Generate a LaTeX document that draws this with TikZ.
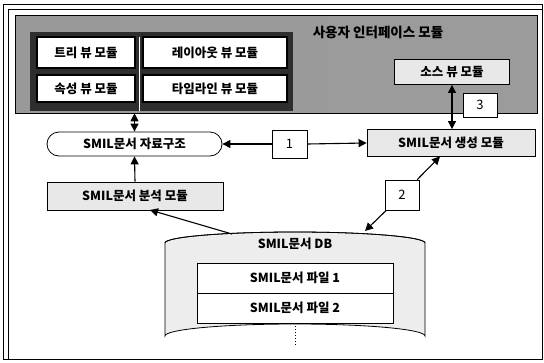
\documentclass[tikz,border=0pt]{standalone}
\usepackage{fontspec}
\setmainfont{Noto Sans CJK KR}
\usetikzlibrary{arrows.meta,shapes.misc,calc}
\begin{document}
\begin{tikzpicture}[x=1pt,y=-1pt,
  txt/.style={font=\fontsize{12.5}{14}\selectfont\bfseries},
  whitebox/.style={draw=black,line width=1.2pt,fill=white,txt,inner sep=0pt},
  graybox/.style={draw=black,line width=0.9pt,fill=gray!18,txt,inner sep=0pt},
  numbox/.style={draw=black,line width=0.8pt,fill=white,font=\fontsize{13}{15}\selectfont,inner sep=0pt},
  arr/.style={line width=1.1pt,-{Triangle[length=8pt,width=8pt]}},
  darr/.style={line width=1.1pt,{Triangle[length=8pt,width=8pt]}-{Triangle[length=8pt,width=8pt]}}]
\useasboundingbox (0,0) rectangle (544,362);
% outer frame
\draw[line width=1pt] (3,4) rectangle (542,359);
\draw[line width=0.6pt] (8,359) -- (8,9) -- (542,9);
% UI panel
\shade[left color=gray!80, middle color=gray!35, right color=gray!78] (15,15) rectangle (537,113);
\node[draw=black,line width=0.6pt,minimum width=522,minimum height=98,inner sep=0pt] (ui) at (276,64) {};
\fill[black!82] (30,32) rectangle (293,111);
\draw[white,line width=0.6pt] (139,37) -- (139,111);
\node[txt,font=\fontsize{13.5}{15}\selectfont\bfseries] (title) at (378,32) {사용자 인터페이스 모듈};
\node[whitebox,minimum width=98,minimum height=31] (tree) at (86,52.5) {트리 뷰 모듈};
\node[whitebox,minimum width=98,minimum height=27] (prop) at (86,88.5) {속성 뷰 모듈};
\node[whitebox,minimum width=144,minimum height=31] (lay) at (215,52.5) {레이아웃 뷰 모듈};
\node[whitebox,minimum width=144,minimum height=27] (time) at (215,88.5) {타임라인 뷰 모듈};
\node[graybox,minimum width=115,minimum height=25] (src) at (452,72) {소스 뷰 모듈};
\node[numbox,minimum width=34,minimum height=24] (b3) at (480,105) {3};
% middle
\node[draw=black,line width=0.8pt,fill=white,rounded rectangle,txt,minimum width=175,minimum height=24,inner sep=0pt] (ell) at (134.5,144) {SMIL문서 자료구조};
\node[numbox,minimum width=35,minimum height=28] (b1) at (289.5,144) {1};
\node[graybox,minimum width=168,minimum height=27] (gen) at (451,143) {SMIL문서 생성 모듈};
\node[graybox,minimum width=176,minimum height=28] (ana) at (135,196) {SMIL문서 분석 모듈};
\node[numbox,minimum width=34,minimum height=30] (b2) at (402,195) {2};
% DB cylinder
\path[draw=black,line width=0.8pt,fill=gray!14] (165,243) -- (165,336) arc[start angle=180,end angle=360,x radius=130,y radius=12] -- (425,243) arc[start angle=0,end angle=-180,x radius=130,y radius=11] -- cycle;
\draw[line width=0.8pt] (165,243) arc[start angle=180,end angle=360,x radius=130,y radius=11];
\node[txt] (dbl) at (295,244) {SMIL문서 DB};
\node[draw=black,line width=0.8pt,fill=white,txt,minimum width=196,minimum height=30,inner sep=0pt] (f1) at (295,278) {SMIL문서 파일 1};
\node[draw=black,line width=0.8pt,fill=white,txt,minimum width=196,minimum height=30,inner sep=0pt] (f2) at (295,308) {SMIL문서 파일 2};
\coordinate (dotend) at (295,346);
\draw[line width=1pt,dotted] (f2.south) -- (dotend);
% connectors
\coordinate (dbout) at (232,234);
\coordinate (anain) at (150,210);
\coordinate (gout) at (440,156.5);
\coordinate (dbin) at (365,231);
\draw[darr] (ell.north) -- (ell.north |- ui.south);
\draw[arr] (ana.north) -- (ell.south);
\draw[arr] (dbout) -- (anain);
\draw[arr] (b1.west) -- (ell.east);
\draw[arr] (b1.east) -- (gen.west);
\draw[arr] (b2) -- (gout);
\draw[arr] (b2) -- (dbin);
\draw[darr] (src.south) -- (src.south |- gen.north);
\end{tikzpicture}
\end{document}
